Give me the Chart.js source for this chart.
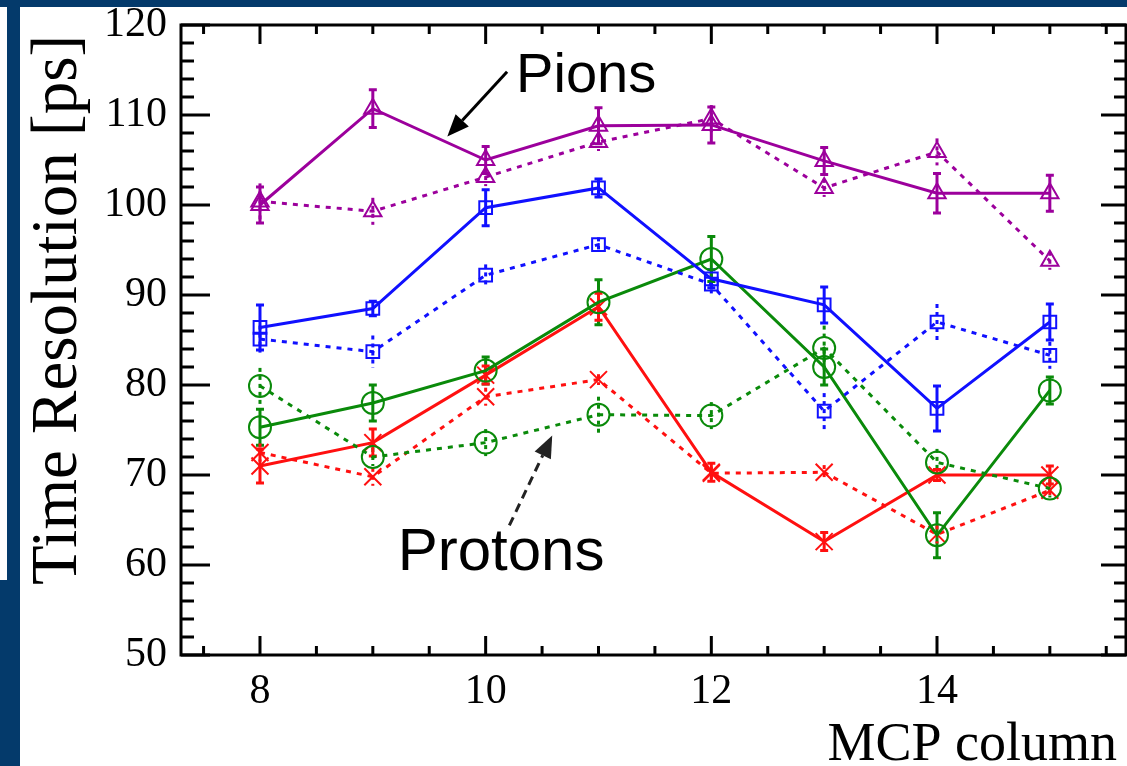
<!DOCTYPE html>
<html>
<head>
<meta charset="utf-8">
<title>Time Resolution vs MCP column</title>
<script src="https://cdn.jsdelivr.net/npm/chart.js@4/dist/chart.umd.min.js"></script>
<style>
  html, body { margin: 0; padding: 0; background: #fff; overflow: hidden; }
  #wrap { position: relative; width: 1127px; height: 766px; overflow: hidden; background: #fff; }
  .band { position: absolute; background: #043a6b; }
  #chart { position: absolute; left: 0; top: 0; }
</style>
</head>
<body>
<div id="wrap">
  <div class="band" style="left:0;top:0;width:1127px;height:7px"></div>
  <div class="band" style="left:7px;top:0;width:13px;height:766px"></div>
  <div class="band" style="left:0;top:580px;width:7px;height:186px"></div>
  <canvas id="chart" width="1140" height="766"></canvas>
</div>
<script>
// MCP columns on the x axis
const columns = [8, 9, 10, 11, 12, 13, 14, 15];

// pions (purple triangles)
const pionSolid = [100.0, 110.7, 105.0, 108.8, 108.9, 104.9, 101.3, 101.3];
const pionSolidErr = [2.0, 2.1, 1.5, 2.0, 2.0, 1.5, 2.2, 2.0];
const pionDashed = [100.4, 99.3, 103.1, 107.0, 109.6, 101.9, 105.9, 93.8];
const pionDashedErr = [2.0, 1.5, 1.0, 1.0, 1.5, 1.0, 1.5, 1.0];

// second pion set (blue squares)
const blueSolid = [86.4, 88.5, 99.7, 101.9, 91.8, 88.9, 77.4, 87.0];
const blueSolidErr = [2.5, 0.8, 2.0, 1.0, 1.0, 2.0, 2.5, 2.0];
const blueDashed = [85.1, 83.7, 92.2, 95.6, 91.2, 77.1, 87.0, 83.3];
const blueDashedErr = [1.5, 1.8, 1.2, 0.8, 1.2, 2.0, 2.0, 1.5];

// protons (green circles)
const greenSolid = [75.3, 78.0, 81.6, 89.2, 94.0, 82.0, 63.3, 79.4];
const greenSolidErr = [2.0, 2.0, 1.5, 2.5, 2.5, 2.0, 2.5, 1.5];
const greenDashed = [79.9, 72.0, 73.6, 76.7, 76.6, 84.1, 71.4, 68.5];
const greenDashedErr = [2.0, 1.0, 1.5, 2.0, 1.5, 2.5, 1.5, 1.0];

// second proton set (red crosses)
const redSolid = [71.0, 73.6, 81.1, 88.7, 70.3, 62.6, 70.0, 70.0];
const redSolidErr = [1.9, 1.5, 1.0, 1.5, 1.0, 1.0, 0.6, 1.0];
const redDashed = [72.5, 69.8, 78.7, 80.6, 70.2, 70.3, 63.4, 68.3];
const redDashedErr = [1.0, 1.0, 1.0, 0.6, 0.7, 0.8, 1.0, 0.8];

// axes
const xMin = 7.3, xMax = 15.675;
const yMin = 50, yMax = 120;
const xLabels = [8, 10, 12, 14];
const yLabels = [50, 60, 70, 80, 90, 100, 110, 120];

const PURPLE = '#9c009c', BLUE = '#1010ff', GREEN = '#0a8a0a', RED = '#ff1010';
const DOTS = [5, 6];

function series(label, values, errs, color, style, dashed, radius) {
  return {
    label: label,
    data: columns.map((c, i) => ({ x: c, y: values[i] })),
    errors: errs,
    showLine: true,
    borderColor: color,
    backgroundColor: 'rgba(0,0,0,0)',
    borderWidth: 3,
    borderDash: dashed ? DOTS : [],
    pointStyle: style,
    pointRadius: radius,
    pointBorderColor: color,
    pointBackgroundColor: 'rgba(0,0,0,0)',
    pointBorderWidth: 2,
    pointHoverRadius: radius,
    tension: 0
  };
}

// error bars, tick marks, frame, titles and the two arrows
const decorations = {
  id: 'decorations',
  beforeDatasetsDraw(chart) {
    const ctx = chart.ctx;
    const ys = chart.scales.y;
    chart.data.datasets.forEach((ds, i) => {
      const meta = chart.getDatasetMeta(i);
      ctx.save();
      ctx.strokeStyle = ds.borderColor;
      ctx.lineWidth = 3;
      ctx.setLineDash(ds.borderDash.length ? [4, 4] : []);
      meta.data.forEach((pt, j) => {
        const v = ds.data[j].y, e = ds.errors[j];
        const top = ys.getPixelForValue(v + e);
        const bot = ys.getPixelForValue(v - e);
        ctx.beginPath();
        ctx.moveTo(pt.x, top);
        ctx.lineTo(pt.x, bot);
        ctx.stroke();
        if (!ds.borderDash.length) {
          ctx.beginPath();
          ctx.moveTo(pt.x - 4, top); ctx.lineTo(pt.x + 4, top);
          ctx.moveTo(pt.x - 4, bot); ctx.lineTo(pt.x + 4, bot);
          ctx.stroke();
        }
      });
      ctx.restore();
    });
  },
  afterDraw(chart) {
    const ctx = chart.ctx;
    const a = chart.chartArea;
    const xs = chart.scales.x, ys = chart.scales.y;
    ctx.save();
    ctx.strokeStyle = '#000';
    ctx.lineWidth = 3;
    ctx.setLineDash([]);
    ctx.strokeRect(a.left, a.top, a.right - a.left, a.bottom - a.top);

    // y ticks every 2, major every 10
    ctx.beginPath();
    for (let v = yMin; v <= yMax; v += 2) {
      const y = ys.getPixelForValue(v);
      const major = v % 10 === 0;
      ctx.moveTo(a.left, y); ctx.lineTo(a.left + (major ? 29 : 13), y);
      ctx.moveTo(a.right, y); ctx.lineTo(a.right - (major ? 25 : 12), y);
    }
    // x ticks every 0.5, major on even columns
    for (let v = 7.5; v <= 15.5; v += 0.5) {
      const x = xs.getPixelForValue(v);
      const major = v % 2 === 0;
      ctx.moveTo(x, a.bottom); ctx.lineTo(x, a.bottom - (major ? 19 : 9));
      ctx.moveTo(x, a.top); ctx.lineTo(x, a.top + (major ? 19 : 9));
    }
    ctx.stroke();

    // axis titles
    ctx.fillStyle = '#000';
    ctx.font = '54px "Liberation Serif", serif';
    ctx.textAlign = 'right';
    ctx.textBaseline = 'alphabetic';
    ctx.fillText('MCP column', 1117, 760);
    ctx.save();
    ctx.translate(76, 310);
    ctx.rotate(-Math.PI / 2);
    ctx.textAlign = 'center';
    ctx.font = '65px "Liberation Serif", serif';
    ctx.fillText('Time Resolution [ps]', 0, 0);
    ctx.restore();

    // annotations
    ctx.font = '56px "Liberation Sans", Arial, sans-serif';
    ctx.textAlign = 'left';
    ctx.fillText('Pions', xs.getPixelForValue(10.27), ys.getPixelForValue(112.6));
    ctx.font = '60px "Liberation Sans", Arial, sans-serif';
    ctx.fillText('Protons', xs.getPixelForValue(9.22), ys.getPixelForValue(59.4));

    arrow(ctx, xs.getPixelForValue(10.19), ys.getPixelForValue(114.8),
               xs.getPixelForValue(9.66), ys.getPixelForValue(107.6), false);
    arrow(ctx, xs.getPixelForValue(10.21), ys.getPixelForValue(64.4),
               xs.getPixelForValue(10.59), ys.getPixelForValue(74.4), true);
    ctx.restore();
  }
};

function arrow(ctx, x0, y0, x1, y1, dashed) {
  const ang = Math.atan2(y1 - y0, x1 - x0);
  const head = 22, half = 9;
  const bx = x1 - head * Math.cos(ang), by = y1 - head * Math.sin(ang);
  ctx.save();
  ctx.strokeStyle = dashed ? '#222' : '#000';
  ctx.fillStyle = dashed ? '#222' : '#000';
  ctx.lineWidth = 3;
  ctx.setLineDash(dashed ? [9, 6] : []);
  ctx.beginPath();
  ctx.moveTo(x0, y0);
  ctx.lineTo(bx, by);
  ctx.stroke();
  ctx.setLineDash([]);
  ctx.beginPath();
  ctx.moveTo(x1, y1);
  ctx.lineTo(bx + half * Math.sin(ang), by - half * Math.cos(ang));
  ctx.lineTo(bx - half * Math.sin(ang), by + half * Math.cos(ang));
  ctx.closePath();
  ctx.fill();
  ctx.restore();
}

const tickFont = { family: '"Liberation Serif", serif', size: 42 };

new Chart(document.getElementById('chart'), {
  type: 'scatter',
  data: {
    datasets: [
      series('pions solid', pionSolid, pionSolidErr, PURPLE, 'triangle', false, 10),
      series('pions dashed', pionDashed, pionDashedErr, PURPLE, 'triangle', true, 10),
      series('blue solid', blueSolid, blueSolidErr, BLUE, 'rect', false, 9),
      series('blue dashed', blueDashed, blueDashedErr, BLUE, 'rect', true, 9),
      series('protons solid', greenSolid, greenSolidErr, GREEN, 'circle', false, 11),
      series('protons dashed', greenDashed, greenDashedErr, GREEN, 'circle', true, 11),
      series('red solid', redSolid, redSolidErr, RED, 'crossRot', false, 12),
      series('red dashed', redDashed, redDashedErr, RED, 'crossRot', true, 12)
    ]
  },
  options: {
    responsive: false,
    animation: false,
    layout: { padding: { top: 25, right: 11, left: 0, bottom: 0 } },
    plugins: { legend: { display: false }, tooltip: { enabled: false } },
    scales: {
      x: {
        type: 'linear',
        min: xMin,
        max: xMax,
        afterBuildTicks: s => { s.ticks = xLabels.map(v => ({ value: v })); },
        afterFit: s => { s.height = 111; },
        grid: { display: false, drawTicks: false },
        border: { display: false },
        ticks: { font: tickFont, color: '#000', padding: 12, maxRotation: 0 }
      },
      y: {
        type: 'linear',
        min: yMin,
        max: yMax,
        afterBuildTicks: s => { s.ticks = yLabels.map(v => ({ value: v })); },
        afterFit: s => { s.width = 181; },
        grid: { display: false, drawTicks: false },
        border: { display: false },
        ticks: { font: { family: tickFont.family, size: 42, lineHeight: 0.5 }, color: '#000', padding: 14 }
      }
    }
  },
  plugins: [decorations]
});
</script>
</body>
</html>
